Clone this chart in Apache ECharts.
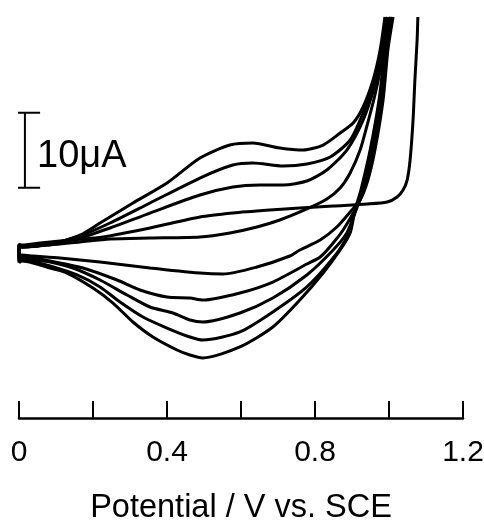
<!DOCTYPE html>
<html>
<head>
<meta charset="utf-8">
<script src="https://cdn.jsdelivr.net/npm/echarts@6/dist/echarts.min.js"></script>
<style>
html,body{margin:0;padding:0;background:#fff;}
#chart{width:484px;height:521px;}
</style>
</head>
<body>
<div id="chart"></div>
<script>
// Potential (V vs. SCE), current (μA, relative)
var anodic1 = [[0,-0.9],[0,0.8],[0.008,0.67],[0.057,0.93],[0.138,1.33],[0.227,1.73],[0.354,2.93],[0.489,4.4],[0.578,4.93],[0.678,5.33],[0.759,5.6],[0.849,5.87],[0.941,6.13],[0.995,6.4],[1.022,7.07],[1.038,8.0],[1.049,9.33],[1.057,12.0],[1.065,17.33],[1.070,22.67],[1.076,28.0],[1.078,31.07]];
var anodic2 = [[0,-1.0],[0,0.6],[0.008,0.4],[0.084,0.67],[0.165,1.07],[0.246,1.47],[0.354,1.6],[0.489,1.73],[0.570,2.27],[0.643,3.07],[0.705,4.0],[0.778,5.47],[0.832,6.8],[0.868,8.27],[0.895,10.27],[0.922,13.33],[0.941,16.67],[0.962,20.67],[0.984,26.0],[0.997,31.07]];
var anodic3 = [[0,-1.3],[0,0.6],[0.008,0.4],[0.084,0.8],[0.165,1.6],[0.246,2.93],[0.354,4.93],[0.489,7.33],[0.578,8.4],[0.651,8.67],[0.714,8.67],[0.778,9.2],[0.832,10.67],[0.886,13.33],[0.930,17.33],[0.962,22.0],[0.984,26.67],[0.995,31.07]];
var anodic4 = [[0,-1.5],[0,0.6],[0.008,0.4],[0.084,0.8],[0.165,1.87],[0.246,3.6],[0.354,6.27],[0.489,9.6],[0.578,11.33],[0.632,11.6],[0.714,11.2],[0.778,11.47],[0.841,12.4],[0.895,14.67],[0.930,18.27],[0.962,22.67],[0.981,26.67],[0.992,31.07]];
var anodic5 = [[0,-1.7],[0,0.6],[0.008,0.4],[0.084,0.8],[0.165,2.0],[0.219,3.6],[0.308,6.27],[0.400,8.93],[0.489,12.27],[0.570,14.0],[0.632,14.27],[0.705,13.6],[0.768,13.33],[0.822,14.0],[0.868,15.6],[0.903,16.93],[0.930,19.07],[0.957,22.67],[0.976,26.67],[0.989,31.07]];
var cathodic1 = [[1.011,31.07],[0.997,26.67],[0.984,20.0],[0.962,13.33],[0.943,9.33],[0.922,6.67],[0.895,5.07],[0.859,3.07],[0.814,1.33],[0.759,0.0],[0.732,-0.8],[0.643,-2.27],[0.551,-3.2],[0.489,-3.07],[0.354,-2.4],[0.219,-1.6],[0.111,-1.07],[0.038,-0.8],[0.008,-0.67],[0,-0.9]];
var cathodic2 = [[1.008,31.07],[0.995,26.67],[0.978,20.0],[0.957,13.33],[0.932,8.0],[0.908,5.33],[0.876,2.67],[0.849,0.93],[0.814,-0.93],[0.778,-1.87],[0.686,-4.27],[0.597,-5.73],[0.497,-6.67],[0.462,-6.4],[0.400,-6.27],[0.327,-5.33],[0.265,-4.0],[0.173,-2.4],[0.084,-1.47],[0.038,-1.07],[0.008,-0.93],[0,-1.0]];
var cathodic3 = [[1.005,31.07],[0.992,26.67],[0.976,20.0],[0.954,13.33],[0.930,8.0],[0.908,4.93],[0.886,2.27],[0.849,0.0],[0.778,-3.33],[0.686,-6.4],[0.597,-8.4],[0.497,-9.6],[0.462,-9.33],[0.416,-8.4],[0.354,-7.6],[0.292,-6.0],[0.219,-4.0],[0.146,-2.4],[0.084,-1.6],[0.038,-1.33],[0.008,-1.2],[0,-1.3]];
var cathodic4 = [[1.005,31.07],[0.992,26.67],[0.976,20.0],[0.951,13.33],[0.927,8.0],[0.905,4.67],[0.886,1.73],[0.849,-1.07],[0.778,-4.93],[0.686,-8.27],[0.597,-10.93],[0.497,-12.0],[0.462,-11.6],[0.400,-10.4],[0.335,-8.93],[0.273,-6.93],[0.219,-4.93],[0.157,-3.33],[0.084,-2.13],[0.038,-1.6],[0.008,-1.33],[0,-1.5]];
var cathodic5 = [[1.003,31.07],[0.989,26.67],[0.973,20.0],[0.949,13.33],[0.924,8.0],[0.908,5.33],[0.895,2.27],[0.868,0.0],[0.822,-3.07],[0.759,-6.67],[0.686,-10.27],[0.597,-12.93],[0.497,-14.4],[0.462,-14.0],[0.427,-13.33],[0.362,-11.6],[0.308,-9.6],[0.254,-7.07],[0.200,-5.07],[0.130,-3.07],[0.084,-2.4],[0.038,-1.73],[0.008,-1.47],[0,-1.7]];
// 10 μA scale bar (x in V, y in μA)
var scaleBar = [[-0.0135,8.3],[0.057,8.3],[0.016,8.3],[0.016,18.3],[-0.0135,18.3],[0.057,18.3]];
var scaleLabel = '10\u03bcA';
var tickLabels = ['0','0.4','0.8','1.2'];
var axisName = 'Potential / V vs. SCE';

var FONT = "'Liberation Sans', Arial, Helvetica, sans-serif";
var curves = [anodic1, anodic2, anodic3, anodic4, anodic5, cathodic1, cathodic2, cathodic3, cathodic4, cathodic5];
var series = curves.map(function (d) {
  return {
    type: 'line', data: d, showSymbol: false, smooth: 0.25, clip: true,
    lineStyle: { color: '#000', width: 3 }, silent: true
  };
});
series.push({
  type: 'line', data: scaleBar, showSymbol: false, clip: false,
  lineStyle: { color: '#000', width: 2 }, silent: true
});

var chart = echarts.init(document.getElementById('chart'), null, { renderer: 'canvas' });
chart.setOption({
  animation: false,
  backgroundColor: '#fff',
  grid: { left: 19, right: 21, top: 17, bottom: 103, containLabel: false, outerBoundsMode: 'none' },
  xAxis: {
    type: 'value', min: 0, max: 1.2, interval: 0.2,
    axisLine: { show: true, onZero: false, lineStyle: { color: '#000', width: 2.5 } },
    axisTick: { show: true, inside: true, length: 17, lineStyle: { color: '#000', width: 2 } },
    splitLine: { show: false },
    axisLabel: {
      color: '#000', fontFamily: FONT, fontSize: 30, lineHeight: 30, margin: 20,
      showMinLabel: true, showMaxLabel: true, hideOverlap: false,
      formatter: function (v) {
        var k = Math.round(v * 10);
        if (k % 4 !== 0) return '';
        return tickLabels[k / 4];
      }
    },
    name: axisName, nameLocation: 'middle', nameGap: 74,
    nameTextStyle: { color: '#000', fontFamily: FONT, fontSize: 32.5, lineHeight: 32 }
  },
  yAxis: {
    type: 'value', min: -22.4, max: 31.07, show: false,
    splitLine: { show: false }
  },
  graphic: [{
    type: 'text', left: 37, top: 138,
    style: { text: scaleLabel, fill: '#000', font: '38px ' + FONT }
  }],
  series: series
});
</script>
</body>
</html>
